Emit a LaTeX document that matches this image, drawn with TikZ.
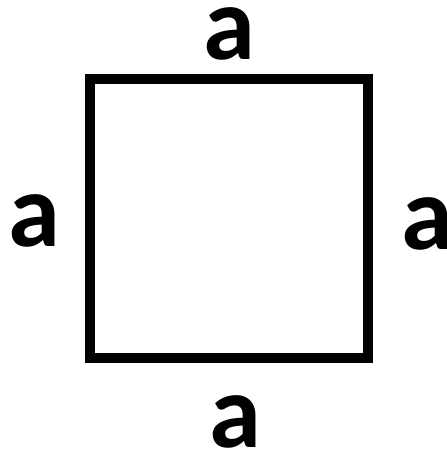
\documentclass[tikz,border=0pt]{standalone}
\usepackage{fontspec}
\setmainfont{Carlito}
\begin{document}
\begin{tikzpicture}[x=1pt,y=-1pt,
  lbl/.style={inner sep=0pt,anchor=base,font=\fontsize{105}{110}\selectfont\bfseries},
  sqbox/.style={draw=black,line width=10pt,minimum width=278pt,minimum height=279pt,inner sep=0pt,outer sep=0pt}]
\useasboundingbox (0,0) rectangle (447,451);
\node[sqbox] (sq) at (229,218.5) {};
\node[lbl] (top) at (229.5,59) {a};
\node[lbl] (left) at (34.5,246) {a};
\node[lbl] (right) at (427,249) {a};
\node[lbl] (bottom) at (235.5,447) {a};
\end{tikzpicture}
\end{document}
